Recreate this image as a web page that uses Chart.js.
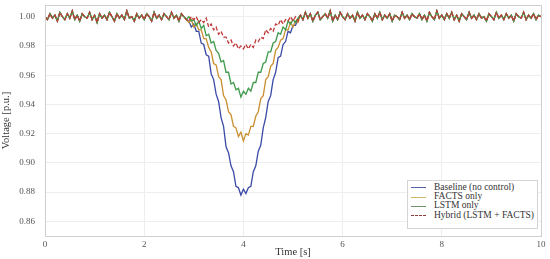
<!DOCTYPE html>
<html>
<head>
<meta charset="utf-8">
<script src="https://cdn.jsdelivr.net/npm/chart.js@4/dist/chart.umd.min.js"></script>
<style>
  html, body { margin: 0; padding: 0; background: #fff; }
  #wrap { position: relative; width: 550px; height: 259px; }
  #legend {
    position: absolute; left: 407px; top: 180px; width: 131px; height: 49px;
    border: 1px solid #d4d4d4; background: #fff; padding-top: 2px; box-sizing: border-box;
    font-family: "Liberation Serif", "DejaVu Serif", serif; font-size: 9.5px; color: #333;
  }
  #legend div { height: 9.2px; line-height: 9.2px; white-space: nowrap; }
  #legend span.ln { display: inline-block; width: 15px; margin: 0 8px 0 3px; vertical-align: middle; border-top: 1.3px solid; }
</style>
</head>
<body>
<div id="wrap">
  <canvas id="chart" width="550" height="259"></canvas>
  <div id="legend"></div>
</div>
<script>
// sampling grid: 0 .. 10 s
const sampleStep = 0.05;
const nSamples = 201;

// values shared by every run before the dip (0 .. 2.85 s)
const preFault = [
  1.000, 0.998, 1.002, 0.999, 1.001, 0.997, 1.003, 1.000, 0.998, 1.002,
  0.999, 1.004, 0.998, 1.001, 0.997, 1.002, 1.000, 0.999, 1.003, 0.998,
  1.001, 0.996, 1.002, 0.999, 1.001, 0.998, 1.003, 1.000, 0.997, 1.002,
  0.999, 1.001, 0.998, 1.004, 0.999, 1.000, 0.997, 1.002, 0.999, 1.001,
  0.998, 1.002, 1.000, 0.997, 1.003, 0.999, 1.001, 0.998, 1.002, 1.000,
  0.998, 1.003, 0.999, 1.001, 0.997, 1.002, 1.000, 0.998
];

// values during the sag (2.90 .. 5.10 s)
const baselineDip = [
  0.997, 0.993, 0.995, 0.990, 0.990, 0.982, 0.981, 0.974, 0.973, 0.961,
  0.957, 0.947, 0.942, 0.931, 0.925, 0.911, 0.907, 0.898, 0.894, 0.884,
  0.883, 0.878, 0.882, 0.879, 0.883, 0.884, 0.894, 0.898, 0.908, 0.912,
  0.924, 0.931, 0.942, 0.946, 0.957, 0.962, 0.972, 0.973, 0.981, 0.983,
  0.990, 0.989, 0.994, 0.994, 0.998
];
const factsDip = [
  0.996, 0.998, 0.993, 0.995, 0.991, 0.991, 0.985, 0.985, 0.979, 0.976,
  0.968, 0.967, 0.959, 0.957, 0.946, 0.943, 0.935, 0.933, 0.925, 0.924,
  0.918, 0.921, 0.915, 0.920, 0.919, 0.925, 0.925, 0.932, 0.935, 0.944,
  0.946, 0.957, 0.959, 0.966, 0.968, 0.977, 0.979, 0.984, 0.985, 0.991,
  0.991, 0.996, 0.993, 0.997, 0.996
];
const lstmDip = [
  1.000, 0.997, 0.998, 0.994, 0.997, 0.992, 0.994, 0.987, 0.988, 0.982,
  0.983, 0.977, 0.975, 0.969, 0.970, 0.962, 0.962, 0.954, 0.955, 0.950,
  0.951, 0.945, 0.949, 0.947, 0.951, 0.949, 0.955, 0.955, 0.962, 0.962,
  0.968, 0.969, 0.976, 0.976, 0.982, 0.983, 0.989, 0.988, 0.993, 0.991,
  0.997, 0.995, 0.998, 0.996, 0.999
];
const hybridDip = [
  0.997, 1.000, 0.998, 1.000, 0.996, 0.998, 0.996, 0.999, 0.993, 0.995,
  0.991, 0.993, 0.988, 0.990, 0.986, 0.986, 0.982, 0.984, 0.980, 0.982,
  0.978, 0.980, 0.978, 0.981, 0.978, 0.981, 0.979, 0.984, 0.983, 0.986,
  0.985, 0.991, 0.989, 0.992, 0.990, 0.995, 0.994, 0.998, 0.995, 0.998,
  0.997, 1.000, 0.997, 1.000, 0.997
];

// values shared by every run after recovery (5.15 .. 10 s)
const postFault = [
  1.001, 0.998, 1.003, 0.999, 1.002, 0.997, 1.001, 1.003, 0.998, 1.000,
  1.002, 0.999, 1.004, 0.997, 1.001, 0.998, 1.003, 1.000, 0.998, 1.002,
  0.999, 1.001, 0.997, 1.003, 0.999, 1.001, 0.998, 1.002, 1.000, 0.997,
  1.002, 0.999, 1.003, 0.998, 1.001, 0.999, 1.002, 0.997, 1.001, 1.000,
  0.998, 1.003, 0.999, 1.001, 0.998, 1.002, 1.000, 0.999, 1.002, 0.998,
  1.001, 0.997, 1.003, 1.000, 0.998, 1.004, 0.999, 1.001, 0.998, 1.002,
  0.999, 1.003, 0.998, 1.001, 0.997, 1.002, 1.000, 0.998, 1.003, 0.999,
  1.001, 0.998, 1.002, 0.999, 1.000, 0.997, 1.002, 1.000, 0.998, 1.003,
  0.999, 1.001, 0.998, 1.002, 0.999, 1.001, 0.997, 1.002, 1.000, 0.999,
  1.003, 0.998, 1.001, 0.999, 1.002, 0.998, 1.001, 1.000
];

const seriesNames = ['Baseline (no control)', 'FACTS only', 'LSTM only', 'Hybrid (LSTM + FACTS)'];
const seriesColors = ['#3a4aa6', '#c98f30', '#3f9a4c', '#c03a3a'];
const legendColors = ['#5563ad', '#cdb866', '#6d9466', '#8c3b36'];
const xTicks = [0, 2, 4, 6, 8, 10];
const yTicks = [0.86, 0.88, 0.90, 0.92, 0.94, 0.96, 0.98, 1.00];

const times = Array.from({ length: nSamples }, (_, i) => +(i * sampleStep).toFixed(2));
const runs = [
  [...preFault, ...baselineDip, ...postFault],
  [...preFault, ...factsDip, ...postFault],
  [...preFault, ...lstmDip, ...postFault],
  [...preFault, ...hybridDip, ...postFault]
];

const serif = '"Liberation Serif", "DejaVu Serif", serif';

const datasets = runs.map((vals, i) => ({
  label: seriesNames[i],
  data: vals.map((v, k) => ({ x: times[k], y: v })),
  borderColor: seriesColors[i],
  borderWidth: 1.3,
  borderDash: i === 3 ? [4, 2] : [],
  pointRadius: 0,
  tension: 0,
  order: 3 - i // hybrid on top
}));

new Chart(document.getElementById('chart'), {
  type: 'line',
  data: { datasets },
  options: {
    responsive: false,
    animation: false,
    layout: { padding: { top: 5, right: 9, left: 0, bottom: 0 } },
    plugins: { legend: { display: false }, tooltip: { enabled: false } },
    scales: {
      x: {
        type: 'linear', min: 0, max: 10,
        afterBuildTicks: s => { s.ticks = xTicks.map(v => ({ value: v })); },
        afterFit: s => { s.height = 23; s.paddingLeft = 0; s.paddingRight = 0; },
        grid: { color: '#eeeeee', drawTicks: false },
        border: { color: '#cfcfcf' },
        ticks: { color: '#555', font: { family: serif, size: 9 }, padding: 3, maxRotation: 0 },
        title: { display: true, text: 'Time [s]', color: '#333', font: { family: serif, size: 10.5 }, padding: { top: -2, bottom: 0 } }
      },
      y: {
        min: 0.85, max: 1.008,
        afterBuildTicks: s => { s.ticks = yTicks.map(v => ({ value: v })); },
        afterFit: s => { s.width = 45; s.paddingTop = 0; s.paddingBottom = 0; },
        grid: { color: '#eeeeee', drawTicks: false },
        border: { color: '#cfcfcf' },
        ticks: { color: '#555', font: { family: serif, size: 9 }, padding: 10, callback: v => v.toFixed(2) },
        title: { display: true, text: 'Voltage [p.u.]', color: '#333', font: { family: serif, size: 10.5 }, padding: { top: 0, bottom: 0 } }
      }
    }
  },
  plugins: [{
    id: 'frame',
    afterDraw(chart) {
      const { ctx, chartArea: a } = chart;
      ctx.save();
      ctx.strokeStyle = '#cfcfcf';
      ctx.lineWidth = 1;
      ctx.strokeRect(a.left + 0.5, a.top + 0.5, a.right - a.left, a.bottom - a.top);
      ctx.restore();
    }
  }]
});

// legend box in the lower right corner
const legend = document.getElementById('legend');
seriesNames.forEach((name, i) => {
  const row = document.createElement('div');
  const ln = document.createElement('span');
  ln.className = 'ln';
  ln.style.borderTopColor = legendColors[i];
  if (i === 3) ln.style.borderTopStyle = 'dashed';
  row.appendChild(ln);
  row.appendChild(document.createTextNode(name));
  legend.appendChild(row);
});
</script>
</body>
</html>
